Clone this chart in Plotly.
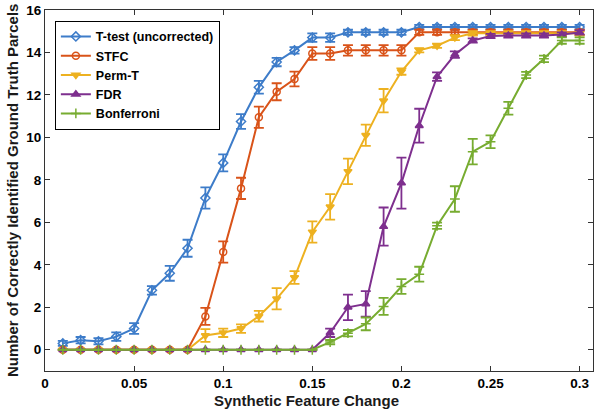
import plotly.graph_objects as go

x_vals = [round(0.01 * i, 2) for i in range(1, 31)]

ttest = [0.3, 0.45, 0.4, 0.62, 1.0, 2.8, 3.6, 4.78, 7.15, 8.8, 10.75, 12.36, 13.55, 14.1, 14.7, 14.7,
         14.95, 14.95, 14.95, 14.95, 15.2, 15.2, 15.2, 15.2, 15.2, 15.2, 15.2, 15.2, 15.2, 15.2]
ttest_err = [0.12, 0.15, 0.15, 0.2, 0.25, 0.2, 0.35, 0.4, 0.5, 0.4, 0.35, 0.3, 0.2, 0.15, 0.2, 0.2,
             0.12, 0.12, 0.12, 0.12, 0.1, 0.1, 0.1, 0.1, 0.1, 0.1, 0.1, 0.1, 0.1, 0.1]

stfc = [0, 0, 0, 0, 0, 0, 0, 0, 1.57, 4.6, 7.6, 10.95, 12.15, 12.75, 13.95, 13.95,
        14.1, 14.1, 14.1, 14.1, 14.95, 14.95, 14.95, 14.95, 14.95, 14.95, 14.95, 14.95, 14.95, 14.95]
stfc_err = [0, 0, 0, 0, 0, 0, 0, 0, 0.4, 0.5, 0.5, 0.5, 0.4, 0.35, 0.3, 0.3,
            0.25, 0.25, 0.25, 0.25, 0.12, 0.12, 0.12, 0.12, 0.12, 0.12, 0.12, 0.12, 0.12, 0.12]

permt = [0, 0, 0, 0, 0, 0, 0, 0, 0.67, 0.8, 1.0, 1.58, 2.4, 3.4, 5.55, 6.73,
         8.4, 10.1, 11.73, 13.1, 14.1, 14.32, 14.7, 14.9, 14.9, 14.9, 14.9, 14.9, 14.9, 14.9]
permt_err = [0, 0, 0, 0, 0, 0, 0, 0, 0.3, 0.2, 0.2, 0.25, 0.5, 0.3, 0.5, 0.6,
             0.6, 0.5, 0.55, 0.15, 0.1, 0.1, 0.12, 0.1, 0.1, 0.1, 0.1, 0.1, 0.1, 0.1]

fdr = [0, 0, 0, 0, 0, 0, 0, 0, 0, 0, 0, 0, 0, 0, 0, 0.8,
       2.0, 2.16, 5.8, 7.85, 10.55, 12.86, 13.9, 14.56, 14.78, 14.8, 14.8, 14.8, 14.85, 14.94]
fdr_err = [0, 0, 0, 0, 0, 0, 0, 0, 0, 0, 0, 0, 0, 0, 0, 0.2,
           0.6, 0.6, 0.9, 1.2, 0.8, 0.2, 0.15, 0.1, 0.1, 0.1, 0.1, 0.1, 0.1, 0.1]

bonf = [0, 0, 0, 0, 0, 0, 0, 0, 0, 0, 0, 0, 0, 0, 0, 0.36,
        0.78, 1.22, 2.04, 2.98, 3.56, 5.84, 7.1, 9.33, 9.8, 11.37, 12.94, 13.7, 14.56, 14.56]
bonf_err = [0, 0, 0, 0, 0, 0, 0, 0, 0, 0, 0, 0, 0, 0, 0, 0.1,
            0.15, 0.3, 0.4, 0.35, 0.35, 0.15, 0.6, 0.6, 0.3, 0.3, 0.15, 0.15, 0.15, 0.15]

x_ticks = [0, 0.05, 0.1, 0.15, 0.2, 0.25, 0.3]
x_tick_labels = ["0", "0.05", "0.1", "0.15", "0.2", "0.25", "0.3"]
y_ticks = [0, 2, 4, 6, 8, 10, 12, 14, 16]
x_title = "Synthetic Feature Change"
y_title = "Number of Correctly Identified Ground Truth Parcels"

series = [
    ("T-test (uncorrected)", ttest, ttest_err, "#3d7cc9", "diamond-open"),
    ("STFC", stfc, stfc_err, "#d95319", "circle-open"),
    ("Perm-T", permt, permt_err, "#edb120", "triangle-down"),
    ("FDR", fdr, fdr_err, "#7e2f8e", "triangle-up"),
    ("Bonferroni", bonf, bonf_err, "#77ac30", "cross-thin-open"),
]

fig = go.Figure()
for name, y, err, color, sym in series:
    fig.add_trace(go.Scatter(
        x=x_vals, y=y, name=name, mode="lines+markers",
        line=dict(color=color, width=2),
        marker=dict(symbol=sym, size=7, color=color, line=dict(color=color, width=1.5)),
        error_y=dict(type="data", array=err, visible=True, color=color, thickness=1.8, width=5),
    ))

FONT = "Liberation Sans"
axis_common = dict(
    showgrid=False, zeroline=False, showline=True, linecolor="#333333", linewidth=1,
    mirror="ticks", ticks="inside", ticklen=5, tickcolor="#333333", automargin=False,
    tickfont=dict(family=FONT, size=13.5, color="black", weight="bold"),
)

title_font = dict(family=FONT, size=15, color="#1a1a1a", weight="bold")

fig.update_layout(
    width=604, height=415,
    margin=dict(l=45, r=11, t=10, b=43.5, autoexpand=False),
    paper_bgcolor="white", plot_bgcolor="white",
    font=dict(family=FONT, color="black"),
    xaxis=dict(range=[0, 0.3075], tickvals=x_ticks, ticktext=x_tick_labels, **axis_common),
    yaxis=dict(range=[-1, 16], tickvals=y_ticks, **axis_common),
    legend=dict(x=0.018, y=0.97, xanchor="left", yanchor="top",
                bgcolor="white", bordercolor="black", borderwidth=1,
                font=dict(family=FONT, size=12.5, weight="bold"),
                tracegroupgap=0, itemwidth=30),
    showlegend=True,
    annotations=[
        dict(text=x_title, xref="paper", yref="paper", x=0.478, y=-0.0816,
             xanchor="center", yanchor="middle", showarrow=False, font=title_font),
        dict(text=y_title, xref="paper", yref="paper", x=-0.0593, y=0.5, textangle=-90,
             xanchor="center", yanchor="middle", showarrow=False, font=title_font),
    ],
)

fig.write_html("out.html", config={"displayModeBar": False},
               post_script="document.body.style.margin='0px';")
